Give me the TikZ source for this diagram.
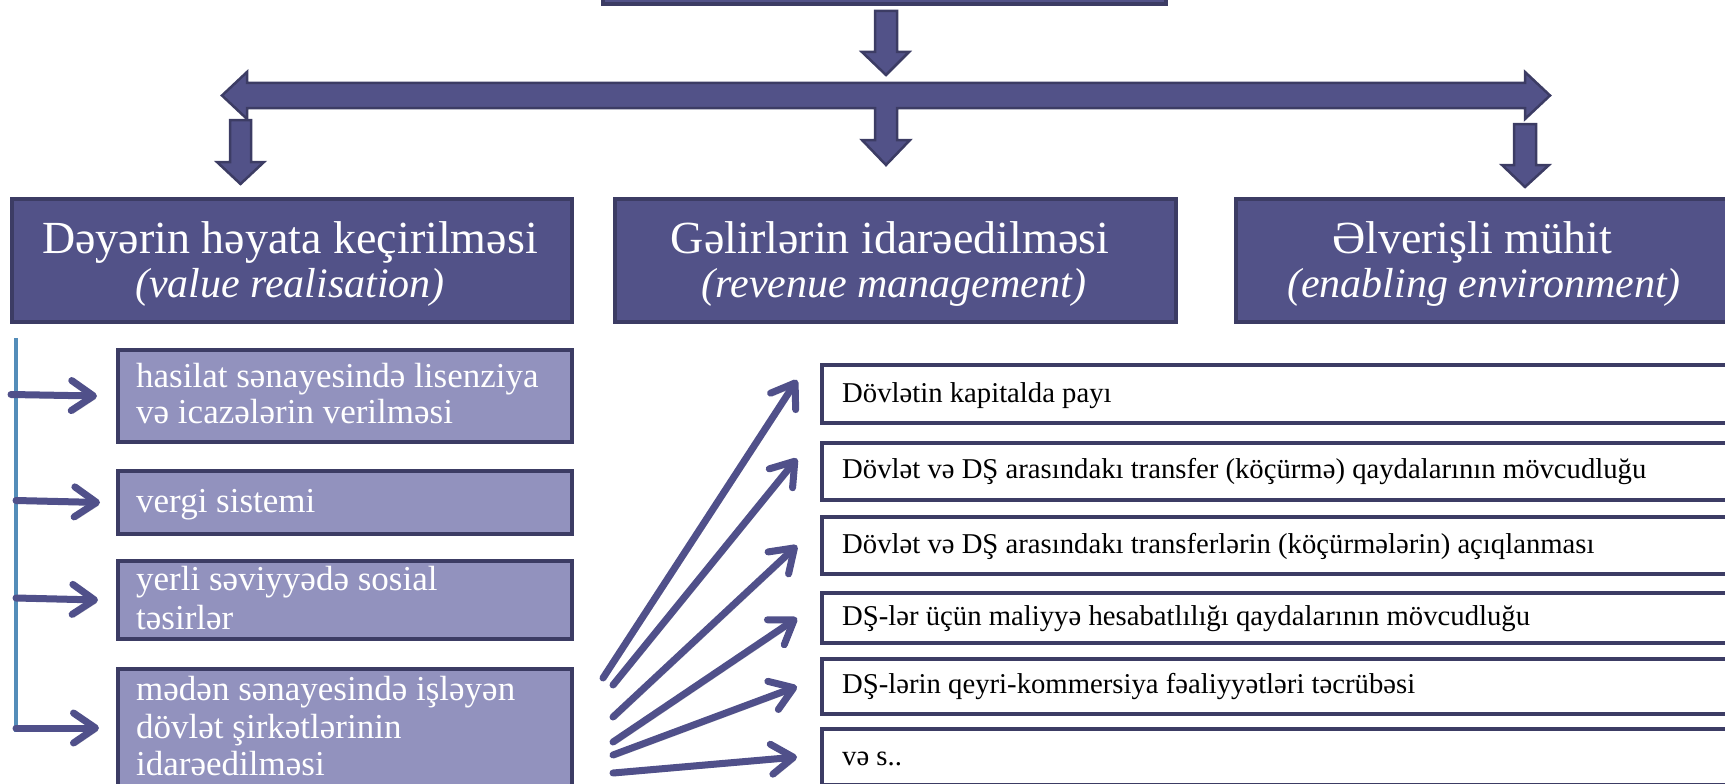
\documentclass[tikz,border=0pt]{standalone}
\usepackage{fontspec}
\setmainfont{Liberation Serif}
\usetikzlibrary{arrows.meta}
\definecolor{pfill}{RGB}{82,82,136}
\definecolor{pdraw}{RGB}{60,60,100}
\definecolor{lfill}{RGB}{146,146,190}
\definecolor{vlinec}{RGB}{84,141,185}
\definecolor{arrc}{RGB}{80,80,138}
\begin{document}
\begin{tikzpicture}[x=1pt,y=-1pt,
  blockarrow/.style={fill=pfill,draw=pdraw,line width=2.5pt,line join=miter},
  headbox/.style={draw=pdraw,fill=pfill,line width=4pt,rectangle,inner sep=0pt,anchor=north west},
  subbox/.style={draw=pdraw,fill=lfill,line width=4pt,rectangle,inner sep=0pt,anchor=north west,minimum width=454pt},
  itembox/.style={draw=pdraw,fill=white,line width=4pt,rectangle,inner sep=0pt,anchor=north west,minimum width=940pt},
  htitle/.style={text=white,inner sep=0pt,anchor=base,font=\fontsize{46}{50}\selectfont},
  hsub/.style={text=white,inner sep=0pt,anchor=base,font=\fontsize{42}{46}\selectfont\itshape},
  subtext/.style={text=white,inner sep=0pt,anchor=base west,font=\fontsize{35}{37}\selectfont},
  itemtext/.style={text=black,inner sep=0pt,anchor=base west,font=\fontsize{28.7}{32}\selectfont},
  sarrow/.style={draw=arrc,line width=7pt,line cap=round,
    -{Straight Barb[length=22pt,width=30pt,round]},
    preaction={draw=black,opacity=0.18,transform canvas={shift={(2pt,-3pt)}}}},
]
\useasboundingbox (0,0) rectangle (1725,784);
\clip (0,0) rectangle (1725,784);

% top box (cut by the upper edge)
\node[headbox,minimum width=563pt,minimum height=42pt] (top) at (601,-40) {};

% block arrows
\draw[blockarrow] (875,11) -- (897,11) -- (897,52) -- (909,52) -- (886,75) -- (862,52) -- (875,52) -- cycle;
\draw[blockarrow] (247,83) -- (1525,83) -- (1525,72) -- (1550,95.5) -- (1525,119) -- (1525,108)
  -- (897,108) -- (897,140) -- (910,140) -- (886,165) -- (862,140) -- (875,140) -- (875,108)
  -- (247,108) -- (247,119) -- (222,95.5) -- (247,72) -- cycle;
\draw[blockarrow] (230,120) -- (251,120) -- (251,162) -- (264,162) -- (240.5,184) -- (217,162) -- (230,162) -- cycle;
\draw[blockarrow] (1514,124) -- (1536,124) -- (1536,165) -- (1549,165) -- (1525,187) -- (1502,165) -- (1514,165) -- cycle;

% level-2 boxes
\node[headbox,minimum width=560pt,minimum height=123pt] (h1) at (10,197) {};
\node[headbox,minimum width=561pt,minimum height=123pt] (h2) at (613,197) {};
\node[headbox,minimum width=504pt,minimum height=123pt] (h3) at (1234,197) {};
\node[htitle] (h1a) at (290,253) {Dəyərin həyata keçirilməsi};
\node[hsub] (h1b) at (290,297) {(value realisation)};
\node[htitle] (h2a) at (890,253) {Gəlirlərin idarəedilməsi};
\node[hsub] (h2b) at (894,297) {(revenue management)};
\node[htitle] (h3a) at (1472,253) {Əlverişli mühit};
\node[hsub] (h3b) at (1484,297) {(enabling environment)};

% left sub boxes
\node[subbox,minimum height=92pt] (s1) at (116,348) {};
\node[subbox,minimum height=63pt] (s2) at (116,469) {};
\node[subbox,minimum height=78pt] (s3) at (116,559) {};
\node[subbox,minimum height=140pt] (s4) at (116,667) {};
\node[subtext] (s1a) at (136,387) {hasilat sənayesində lisenziya};
\node[subtext] (s1b) at (136,423) {və icazələrin verilməsi};
\node[subtext] (s2a) at (136,512) {vergi sistemi};
\node[subtext] (s3a) at (136,590) {yerli səviyyədə sosial};
\node[subtext] (s3b) at (136,629) {təsirlər};
\node[subtext] (s4a) at (136,700) {mədən sənayesində işləyən};
\node[subtext] (s4b) at (136,738) {dövlət şirkətlərinin};
\node[subtext] (s4c) at (136,775) {idarəedilməsi};

% vertical line and arrows
\coordinate (vt) at (16,338);
\coordinate (vb) at (16,732);
\draw[vlinec,line width=3.5pt] (vt) -- (vb);
\coordinate (a1) at (11,394.5);
\coordinate (a2) at (16,500.5);
\coordinate (a3) at (16,598);
\coordinate (a4) at (16,728);
\coordinate (t4) at (99,728);
\draw[sarrow] (a1) -- ([xshift=-19pt]s1.west);
\draw[sarrow] (a2) -- ([xshift=-16pt]s2.west);
\draw[sarrow] (a3) -- ([xshift=-18pt]s3.west);
\draw[sarrow] (a4) -- (t4);

% right item boxes
\node[itembox,minimum height=58pt] (r1) at (820,363) {};
\node[itembox,minimum height=57pt] (r2) at (820,441) {};
\node[itembox,minimum height=57pt] (r3) at (820,515) {};
\node[itembox,minimum height=50pt] (r4) at (820,591) {};
\node[itembox,minimum height=55pt] (r5) at (820,657) {};
\node[itembox,minimum height=56pt] (r6) at (820,727) {};
\node[itemtext] (r1t) at (842,402) {Dövlətin kapitalda payı};
\node[itemtext] (r2t) at (842,478) {Dövlət və DŞ arasındakı transfer (köçürmə) qaydalarının mövcudluğu};
\node[itemtext] (r3t) at (842,553) {Dövlət və DŞ arasındakı transferlərin (köçürmələrin) açıqlanması};
\node[itemtext] (r4t) at (842,625) {DŞ-lər üçün maliyyə hesabatlılığı qaydalarının mövcudluğu};
\node[itemtext] (r5t) at (842,693) {DŞ-lərin qeyri-kommersiya fəaliyyətləri təcrübəsi};
\node[itemtext] (r6t) at (842,765) {və s..};

% diagonal arrows
\coordinate (d1) at (603,678);
\coordinate (d2) at (613,685);
\coordinate (d3) at (613,717);
\coordinate (d4) at (613,742);
\coordinate (d5) at (613,755);
\coordinate (d6) at (613,773);
\draw[sarrow] (d1) -- ([xshift=-23pt,yshift=14pt]r1.west);
\draw[sarrow] (d2) -- ([xshift=-23pt,yshift=13pt]r2.west);
\draw[sarrow] (d3) -- ([xshift=-23pt]r3.west);
\draw[sarrow] (d4) -- ([xshift=-23pt]r4.west);
\draw[sarrow] (d5) -- ([xshift=-23pt]r5.west);
\draw[sarrow] (d6) -- ([xshift=-23pt]r6.west);
\end{tikzpicture}
\end{document}
